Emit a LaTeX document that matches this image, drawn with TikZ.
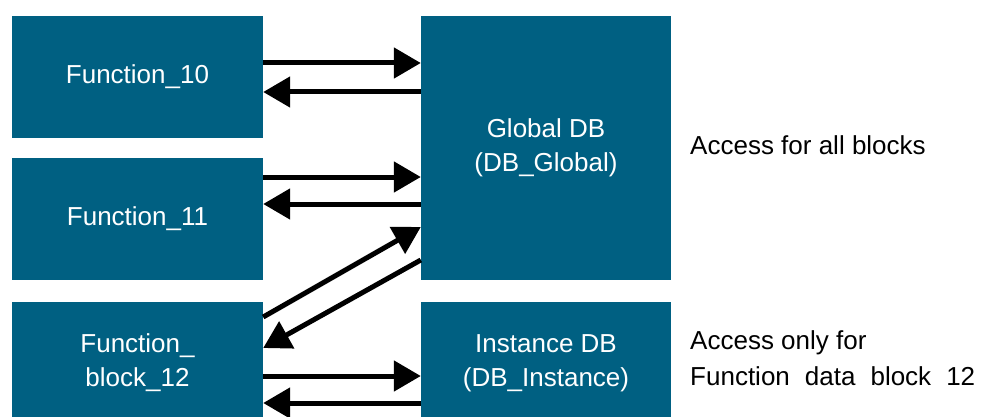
\documentclass[tikz,border=0pt]{standalone}
\usepackage{fontspec}
\setmainfont{Liberation Sans}
\usetikzlibrary{arrows.meta}
\definecolor{blockblue}{RGB}{0,96,130}
\begin{document}
\begin{tikzpicture}[x=1pt,y=-1pt,
  blk/.style={fill=blockblue, text=white, minimum width=251pt, inner sep=0pt,
    align=center, font=\fontsize{26}{34}\selectfont},
  arr/.style={line width=5pt, -{Triangle[length=27pt,width=30pt]}},
  note/.style={anchor=west, align=left, inner sep=0pt,
    font=\fontsize{26}{36}\selectfont}]
\clip (0,0) rectangle (982,417);

% function blocks
\node[blk, minimum height=122pt] (f10) at (137.5,77) {Function\_10};
\node[blk, minimum height=122pt] (f11) at (137.5,219) {Function\_11};
\node[blk, minimum height=122pt] (f12) at (137.5,363) {Function\_\\block\_12};

% data blocks
\node[blk, minimum width=250pt, minimum height=264pt] (gdb) at (546,148) {Global DB\\(DB\_Global)};
\node[blk, minimum width=250pt, minimum height=122pt] (idb) at (546,363) {Instance DB\\(DB\_Instance)};

% notes
\node[note] (n1) at (690,145) {Access for all blocks};
\node[note] (n2) at (690,358) {Access only for\\\makebox[285pt][s]{Function data block 12}};

% Function_10 <-> Global DB
\draw[arr] ([yshift=14pt]f10.east) -- ([yshift=14pt]f10.east -| gdb.west);
\draw[arr] ([yshift=-15pt]f10.east -| gdb.west) -- ([yshift=-15pt]f10.east);

% Function_11 <-> Global DB
\draw[arr] ([yshift=42pt]f11.east) -- ([yshift=42pt]f11.east -| gdb.west);
\draw[arr] ([yshift=15pt]f11.east -| gdb.west) -- ([yshift=15pt]f11.east);

% Function_block_12 <-> Global DB
\draw[arr] ([yshift=46pt]f12.east) -- ([yshift=-79pt]gdb.west);
\draw[arr] ([yshift=-112pt]gdb.west) -- ([yshift=15pt]f12.east);

% Function_block_12 <-> Instance DB
\draw[arr] ([yshift=-13pt]f12.east) -- ([yshift=-13pt]f12.east -| idb.west);
\draw[arr] ([yshift=-40pt]f12.east -| idb.west) -- ([yshift=-40pt]f12.east);
\end{tikzpicture}
\end{document}
